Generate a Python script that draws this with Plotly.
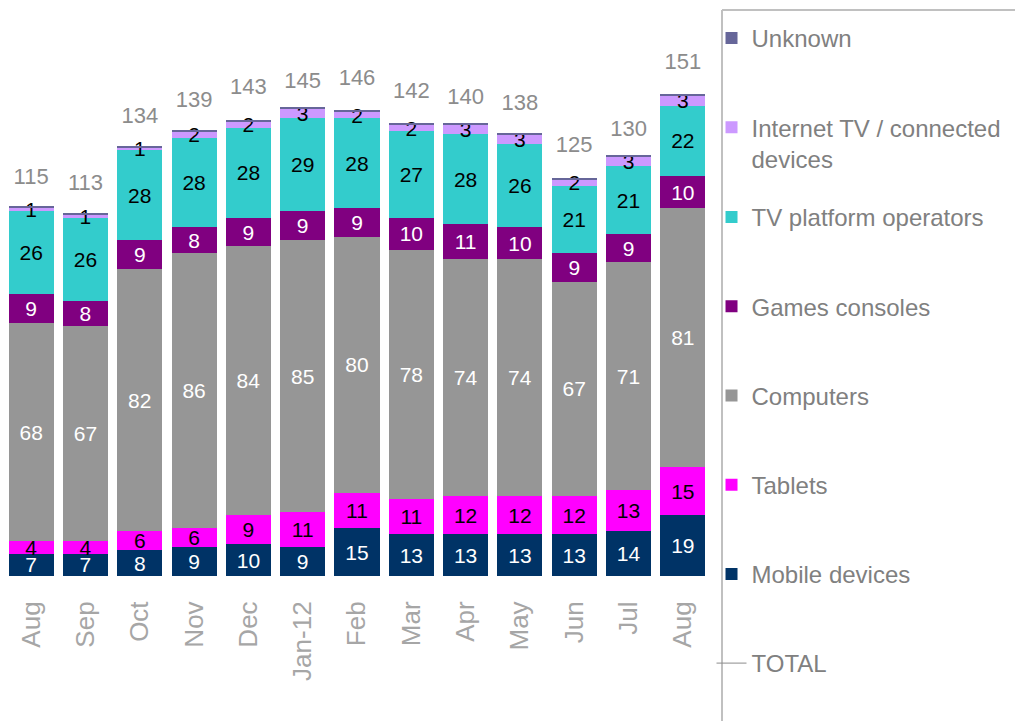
import plotly.graph_objects as go

months = ["Aug", "Sep", "Oct", "Nov", "Dec", "Jan-12", "Feb", "Mar", "Apr", "May", "Jun", "Jul", "Aug"]
mobile = [7, 7, 8, 9, 10, 9, 15, 13, 13, 13, 13, 14, 19]
tablets = [4, 4, 6, 6, 9, 11, 11, 11, 12, 12, 12, 13, 15]
computers = [68, 67, 82, 86, 84, 85, 80, 78, 74, 74, 67, 71, 81]
games = [9, 8, 9, 8, 9, 9, 9, 10, 11, 10, 9, 9, 10]
tv_platform = [26, 26, 28, 28, 28, 29, 28, 27, 28, 26, 21, 21, 22]
internet_tv = [1, 1, 1, 2, 2, 3, 2, 2, 3, 3, 2, 3, 3]
unknown = [0.4, 0.4, 0.4, 0.4, 0.4, 0.4, 0.4, 0.4, 0.4, 0.4, 0.4, 0.4, 0.7]
totals = [115, 113, 134, 139, 143, 145, 146, 142, 140, 138, 125, 130, 151]

FONT = "Liberation Sans, Arial, sans-serif"
x = list(range(len(months)))

series = [
    ("Mobile devices", mobile, "#003366", "white", 7, "legend2"),
    ("Tablets", tablets, "#FF00FF", "black", 6, "legend2"),
    ("Computers", computers, "#969696", "white", 5, "legend2"),
    ("Games consoles", games, "#800080", "white", 4, "legend2"),
    ("TV platform operators", tv_platform, "#33CCCC", "black", 3, "legend2"),
    ("Internet TV / connected<br>devices", internet_tv, "#CC99FF", "black", 2, "legend"),
    ("Unknown", unknown, "#666699", "black", 1, "legend"),
]

fig = go.Figure()
for name, vals, color, tcol, rank, lg in series:
    fig.add_trace(go.Bar(
        x=x, y=vals, name=name, marker=dict(color=color, line=dict(width=0)),
        text=[str(v) if name != "Unknown" else "" for v in vals],
        textposition="inside", insidetextanchor="middle", constraintext="none",
        textangle=0,
        textfont=dict(color=tcol, size=21, family=FONT),
        legendrank=rank, legendgroup=name, legend=lg, hoverinfo="skip",
    ))

# total labels
fig.add_trace(go.Scatter(
    x=x, y=totals, mode="markers+text", text=[str(t) for t in totals],
    textposition="top center", marker=dict(size=28, color="rgba(0,0,0,0)"),
    textfont=dict(color="#8C8C8C", size=22, family=FONT), showlegend=False, hoverinfo="skip",
))
# TOTAL legend entry
fig.add_trace(go.Scatter(
    x=[None], y=[None], mode="lines", name="TOTAL", line=dict(color="#8C8C8C", width=1),
    legendrank=8, legendgroup="TOTAL", legend="legend2",
))

legend_common = dict(
    xref="container", yref="container", xanchor="left", yanchor="top",
    font=dict(family=FONT, size=24, color="#808080"), traceorder="grouped",
    tracegroupgap=55, valign="top", itemclick=False, itemdoubleclick=False,
    bgcolor="rgba(0,0,0,0)", maxheight=900,
)

fig.update_layout(
    width=1015, height=721,
    margin=dict(l=4, r=305, t=0, b=145),
    paper_bgcolor="white", plot_bgcolor="white",
    barmode="stack", bargap=0.17,
    uniformtext=dict(minsize=21, mode="show"),
    xaxis=dict(tickvals=x, ticktext=months, tickangle=-90, showgrid=False, zeroline=False,
               showline=False, ticks="outside", ticklen=14, tickcolor="rgba(0,0,0,0)",
               tickfont=dict(family=FONT, size=26, color="#A6A6A6"),
               range=[-0.5, len(months) - 0.5]),
    yaxis=dict(range=[0, 180], visible=False),
    legend=dict(x=0.701, y=1 - 16 / 721, **legend_common),
    legend2=dict(x=0.701, y=1 - 195 / 721, **legend_common),
    showlegend=True,
    shapes=[
        dict(type="line", xref="paper", yref="paper", x0=(722 - 4) / 706, x1=(722 - 4) / 706,
             y0=-145 / 576, y1=(576 - 10) / 576, line=dict(color="#C0C0C0", width=2)),
        dict(type="line", xref="paper", yref="paper", x0=(722 - 4) / 706, x1=(1015 - 4) / 706,
             y0=(576 - 10) / 576, y1=(576 - 10) / 576, line=dict(color="#C0C0C0", width=2)),
    ],
)

fig.write_html("out.html", config={"displayModeBar": False},
               post_script="document.body.style.margin='0';document.body.style.overflow='hidden';")
